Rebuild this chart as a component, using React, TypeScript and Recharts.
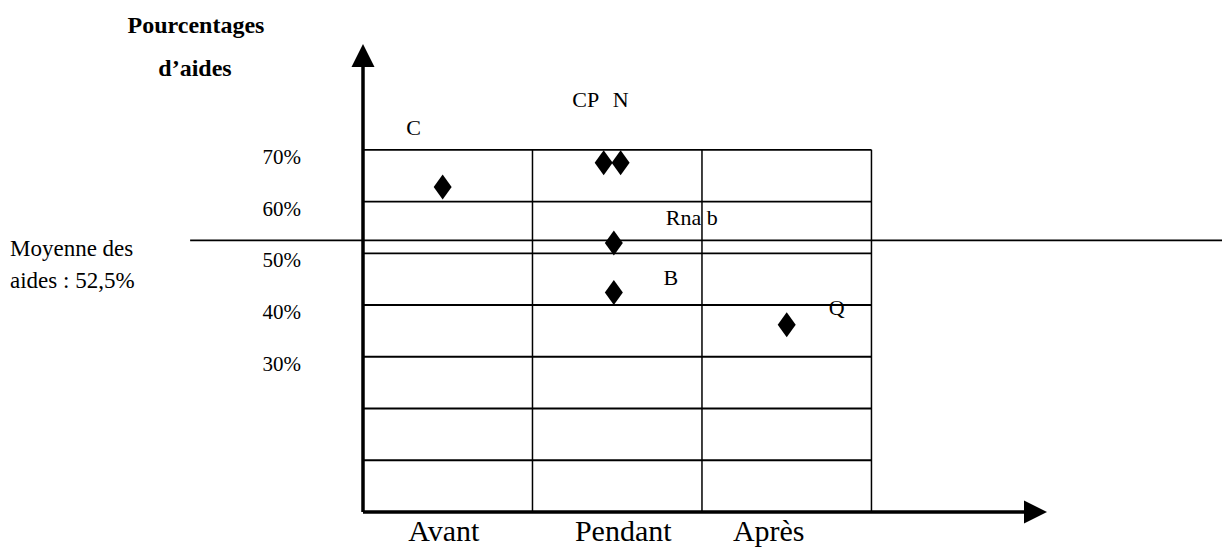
import React from "react";
import {
  ScatterChart,
  Scatter,
  XAxis,
  YAxis,
  ReferenceLine,
} from "recharts";

// phases on the horizontal axis
const phases = ["Avant", "Pendant", "Après"];
const phaseTicks = [0.5, 1.5, 2.5];

// points: name, position along the time axis, percentage of aids
const pointNames = ["C", "CP", "N", "Rna b", "B", "Q"];
const pointPhase = [0.47, 1.42, 1.52, 1.48, 1.48, 2.5];
const pointValues = [62.8, 67.5, 67.5, 52, 42.4, 36.2];

const yTicks = [30, 40, 50, 60, 70];
const gridRows = [0, 10, 20, 30, 40, 50, 60, 70];
const gridCols = [1, 2, 3];
const meanValue = 52.5;

const data = pointNames.map((name, i) => ({
  name,
  x: pointPhase[i],
  y: pointValues[i],
}));

const FONT = "'Liberation Serif', 'Times New Roman', serif";

// where each label sits relative to its diamond (px)
const labelOffsets: Record<string, [number, number]> = {
  C: [-29, -60],
  CP: [-18, -63],
  N: [0, -63],
  "Rna b": [78, -25],
  B: [57, -15],
  Q: [50, -17],
};
// small horizontal nudges of the phase names under the axis (px)
const phaseNudge = [-4, 6, -18];

function Diamond(props: any) {
  const { cx, cy, payload } = props;
  const off = labelOffsets[payload.name] || [0, -30];
  return (
    <g>
      <polygon
        points={`${cx},${cy - 12.5} ${cx + 9},${cy} ${cx},${cy + 12.5} ${cx - 9},${cy}`}
        fill="#000"
      />
      <text
        x={cx + off[0]}
        y={cy + off[1]}
        textAnchor="middle"
        dominantBaseline="central"
        fontFamily={FONT}
        fontSize={22}
        fill="#000"
      >
        {payload.name}
      </text>
    </g>
  );
}

function Arrow(props: any) {
  const { x1, y1, x2, y2 } = props;
  const len = Math.hypot(x2 - x1, y2 - y1) || 1;
  const ux = (x2 - x1) / len;
  const uy = (y2 - y1) / len;
  const head = 23;
  const half = 11.5;
  const tipX = x2 + ux * head;
  const tipY = y2 + uy * head;
  return (
    <g>
      <line x1={x1} y1={y1} x2={x2} y2={y2} stroke="#000" strokeWidth={3.5} />
      <polygon
        points={`${tipX},${tipY} ${x2 - uy * half},${y2 + ux * half} ${x2 + uy * half},${y2 - ux * half}`}
        fill="#000"
      />
    </g>
  );
}

function YTick(props: any) {
  const { x, y, payload } = props;
  return (
    <text
      x={x}
      y={y + 7}
      textAnchor="end"
      dominantBaseline="central"
      fontFamily={FONT}
      fontSize={21}
      fill="#000"
    >
      {payload.value}%
    </text>
  );
}

function XTick(props: any) {
  const { x, y, payload } = props;
  const i = Math.floor(payload.value);
  return (
    <text
      x={x + (phaseNudge[i] || 0)}
      y={y + 29}
      textAnchor="middle"
      fontFamily={FONT}
      fontSize={30}
      fill="#000"
    >
      {phases[i]}
    </text>
  );
}

function Chart() {
  return (
    <div style={{ position: "absolute", left: 0, top: 0, width: 1222, height: 555, fontFamily: FONT }}>
      <ScatterChart
        width={1222}
        height={555}
        margin={{ top: 67, right: 198, left: 0, bottom: 0 }}
      >
        <XAxis
          type="number"
          dataKey="x"
          domain={[0, 3.9]}
          ticks={phaseTicks}
          axisLine={false}
          tickLine={false}
          tickSize={0}
          tickMargin={0}
          height={43}
          tick={<XTick />}
          interval={0}
        />
        <YAxis
          type="number"
          dataKey="y"
          domain={[0, 86]}
          ticks={yTicks}
          axisLine={false}
          tickLine={false}
          tickSize={0}
          tickMargin={62}
          width={363}
          tick={<YTick />}
          interval={0}
        />
        {gridRows.map((v) => (
          <ReferenceLine
            key={"r" + v}
            segment={[
              { x: 0, y: v },
              { x: 3, y: v },
            ]}
            stroke="#000"
            strokeWidth={1.8}
            ifOverflow="visible"
          />
        ))}
        {gridCols.map((c) => (
          <ReferenceLine
            key={"c" + c}
            segment={[
              { x: c, y: 0 },
              { x: c, y: 70 },
            ]}
            stroke="#000"
            strokeWidth={1.5}
            ifOverflow="visible"
          />
        ))}
        <ReferenceLine
          segment={[
            { x: -1.02, y: meanValue },
            { x: 5.1, y: meanValue },
          ]}
          stroke="#000"
          strokeWidth={1.6}
          ifOverflow="visible"
        />
        <ReferenceLine
          segment={[
            { x: 0, y: 0 },
            { x: 3.9, y: 0 },
          ]}
          ifOverflow="visible"
          shape={(p: any) => <Arrow {...p} />}
        />
        <ReferenceLine
          segment={[
            { x: 0, y: 0 },
            { x: 0, y: 86 },
          ]}
          ifOverflow="visible"
          shape={(p: any) => <Arrow {...p} />}
        />
        <Scatter data={data} shape={<Diamond />} isAnimationActive={false} />
        <text x={196} y={25} textAnchor="middle" dominantBaseline="central" fontFamily={FONT} fontSize={24} fontWeight="bold" fill="#000">
          Pourcentages
        </text>
        <text x={195} y={68} textAnchor="middle" dominantBaseline="central" fontFamily={FONT} fontSize={24} fontWeight="bold" fill="#000">
          d’aides
        </text>
        <text x={10} y={248} dominantBaseline="central" fontFamily={FONT} fontSize={23} fill="#000">
          Moyenne des
        </text>
        <text x={10} y={280} dominantBaseline="central" fontFamily={FONT} fontSize={23} fill="#000">
          aides : 52,5%
        </text>
      </ScatterChart>
    </div>
  );
}

export default function App() {
  return <Chart />;
}
